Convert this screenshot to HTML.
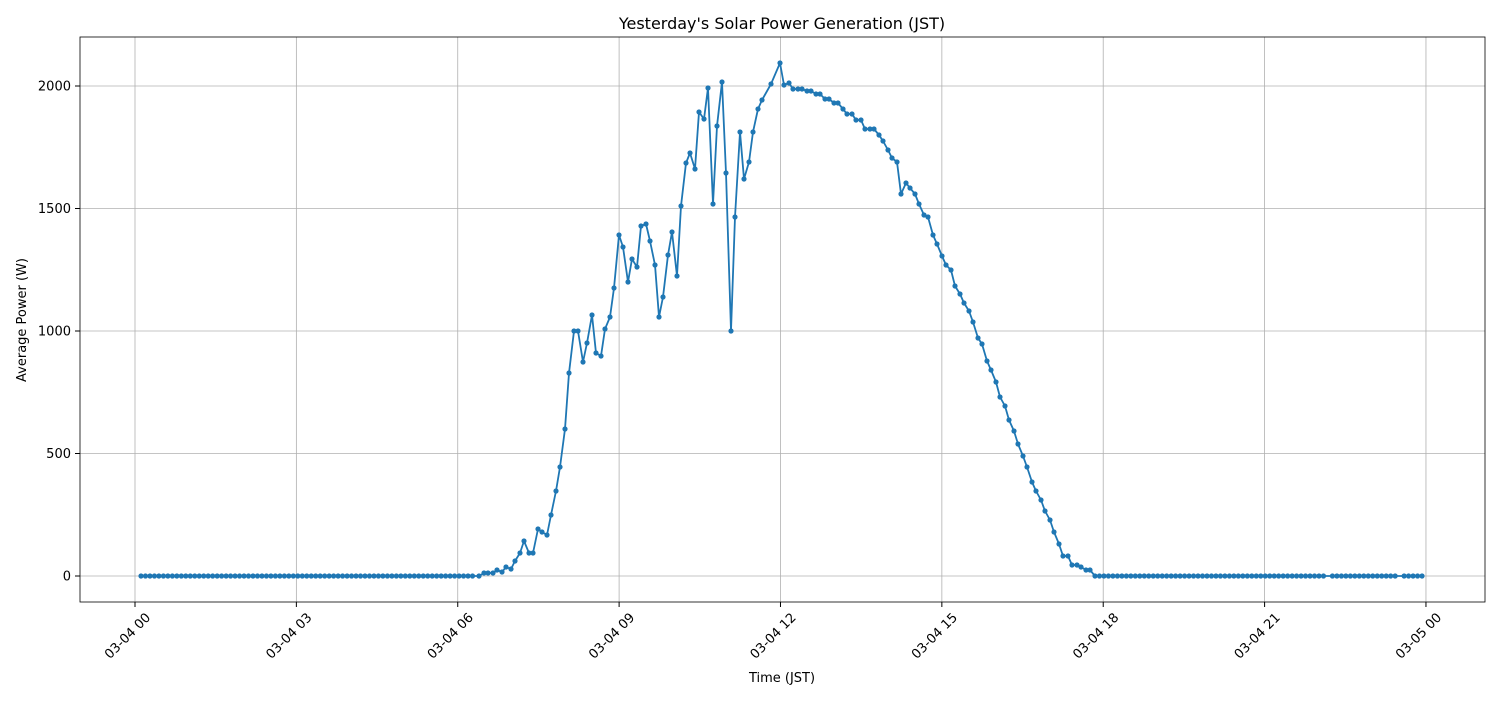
<!DOCTYPE html>
<html><head><style>body{margin:0;background:#fff}</style></head><body>
<svg id="s" width="1500" height="700" xmlns="http://www.w3.org/2000/svg" font-family="DejaVu Sans, Liberation Sans, sans-serif">
<rect width="1500" height="700" fill="#fff"/>
<g id="grid" stroke="#b0b0b0" stroke-width="0.8"></g>
<rect x="80" y="37" width="1405" height="565" fill="none" stroke="#000" stroke-width="0.8"/>
<g id="ticks" font-size="13" fill="#000"></g>
<polyline id="line" fill="none" stroke="#1f77b4" stroke-width="1.8" stroke-linejoin="round"/>
<g id="dots" fill="#1f77b4"></g>
<text x="782" y="29" font-size="16" text-anchor="middle">Yesterday's Solar Power Generation (JST)</text>
<text x="782" y="682" font-size="13" text-anchor="middle">Time (JST)</text>
<text transform="translate(26,320) rotate(-90)" font-size="13" text-anchor="middle">Average Power (W)</text>
</svg>
<script>
const NS="http://www.w3.org/2000/svg";
function el(t,a,p){const e=document.createElementNS(NS,t);for(const k in a)e.setAttribute(k,a[k]);document.getElementById(p).appendChild(e);return e;}
const X0=135,XH=53.79,Y0=576,YS=0.245;
const labels=["03-04 00","03-04 03","03-04 06","03-04 09","03-04 12","03-04 15","03-04 18","03-04 21","03-05 00"];
labels.forEach((l,i)=>{const x=X0+i*3*XH;
el("line",{x1:x,y1:37,x2:x,y2:602},"grid");
el("line",{x1:x,y1:602,x2:x,y2:607,stroke:"#000"},"ticks");
const t=el("text",{transform:`translate(${x+10},${612}) rotate(-45)`,"text-anchor":"end","dominant-baseline":"hanging"},"ticks");t.textContent=l;});
[0,500,1000,1500,2000].forEach(v=>{const y=Y0-v*YS;
el("line",{x1:80,y1:y,x2:1485,y2:y},"grid");
el("line",{x1:75,y1:y,x2:80,y2:y,stroke:"#000"},"ticks");
const t=el("text",{x:71,y:y+4.5,"text-anchor":"end"},"ticks");t.textContent=v;});
let pts=[];
for(let x=141;x<477;x+=4.48)pts.push([x,576]);
const mid=[[479,576],[484,573],[488,573],[493,573],[497,570],[502,572],[506,567],[511,569],[515,561],[520,553],[524,541],[529,553],[533,553],[538,529],[542,532],[547,535],[551,515],[556,491],[560,467],[565,429],[569,373],[574,331],[578,331],[583,362],[587,343],[592,315],[596,353],[601,356],[605,329],[610,317],[614,288],[619,235],[623,247],[628,282],[632,259],[637,267],[641,226],[646,224],[650,241],[655,265],[659,317],[663,297],[668,255],[672,232],[677,276],[681,206],[686,163],[690,153],[695,169],[699,112],[704,119],[708,88],[713,204],[717,126],[722,82],[726,173],[731,331],[735,217],[740,132],[744,179],[749,162],[753,132],[758,109],[762,100],[771,84],[780,63],[784,85],[789,83],[793,89],[798,89],[802,89],[807,91],[811,91],[816,94],[820,94],[825,99],[829,99],[834,103],[838,103],[843,109],[847,114],[852,114],[856,120],[861,120],[865,129],[870,129],[874,129],[879,135],[883,141],[888,150],[892,158],[897,162],[901,194],[906,183],[910,188],[915,194],[919,204],[924,215],[928,217],[933,235],[937,244],[942,256],[946,265],[951,270],[955,286],[960,294],[964,303],[969,311],[973,322],[978,338],[982,344],[987,361],[991,370],[996,382],[1000,397],[1005,406],[1009,420],[1014,431],[1018,444],[1023,456],[1027,467],[1032,482],[1036,491],[1041,500],[1045,511],[1050,520],[1054,532],[1059,544],[1063,556],[1068,556],[1072,565],[1077,565],[1081,567],[1086,570],[1090,570]];
pts=pts.concat(mid);
for(let x=1095;x<1423;x+=4.48){if(Math.abs(x-1326)<2||Math.abs(x-1400)<2)continue;pts.push([x,576]);}
document.getElementById("line").setAttribute("points",pts.map(p=>p.join(",")).join(" "));
pts.forEach(p=>el("circle",{cx:p[0],cy:p[1],r:2.6},"dots"));
</script>
</body></html>
